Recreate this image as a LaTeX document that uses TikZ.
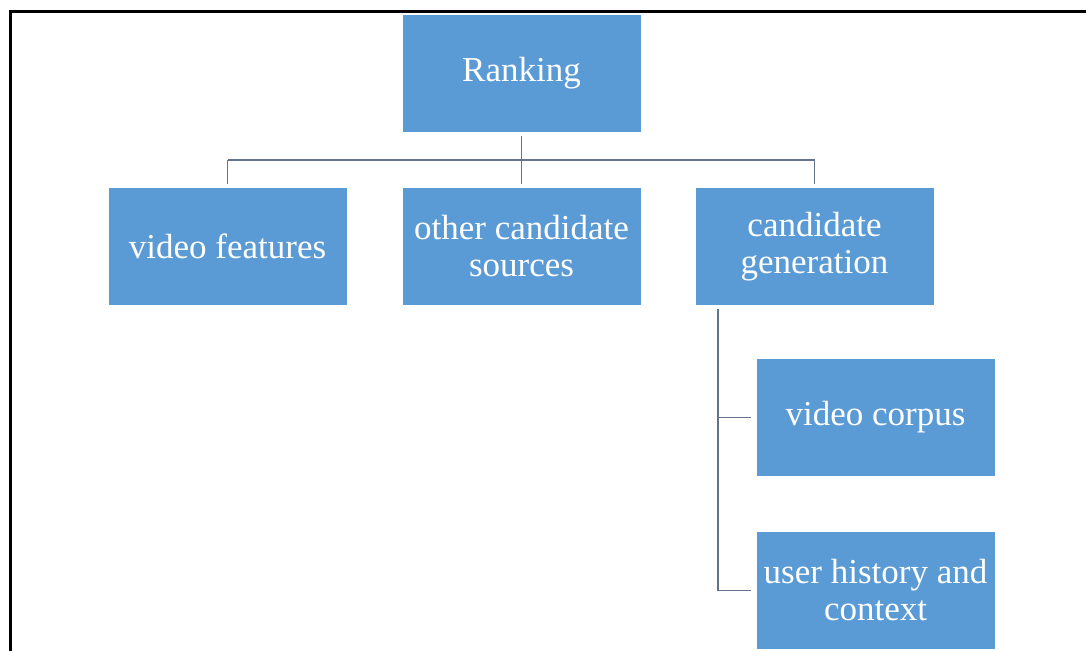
\documentclass[tikz,border=0pt]{standalone}
\usepackage{fontspec}
\setmainfont{Liberation Serif}
\begin{document}
\begin{tikzpicture}[x=1pt,y=-1pt,
  box/.style={fill={rgb,255:red,91;green,155;blue,213}, text=white, inner sep=0pt,
    minimum width=238pt, minimum height=117pt, align=center,
    font=\fontsize{35}{37}\selectfont},
  conn/.style={draw={rgb,255:red,100;green,115;blue,140}, line width=1.6pt},
  frameline/.style={draw=black, line width=2.4pt}]
\useasboundingbox (0,0) rectangle (1086,650);
\fill[white] (0,0) rectangle (1086,650);
\begin{scope}
\clip (0,0) rectangle (1086,650);
\draw[frameline] (1090,11.5) -- (10.5,11.5) -- (10.5,655);
\end{scope}

% boxes
\node[box] (rank) at (521.5,73.5) {Ranking};
\node[box] (vf) at (227.5,246.5) {video features};
\node[box] (ocs) at (521.5,246.5) {other candidate\\sources};
\node[box] (cg) at (814.5,246.5) {candidate\\generation};
\node[box] (vc) at (875.5,417.5) {video corpus};
\node[box] (uh) at (875.5,590.5) {user history and\\context};

% top-level connectors
\coordinate (bus) at (521.5,160);
\draw[conn, shorten <=4pt, shorten >=4pt] (rank.south) -- (ocs.north);
\draw[conn] (vf.north |- bus) -- (cg.north |- bus);
\draw[conn, shorten >=4pt] (vf.north |- bus) -- (vf.north);
\draw[conn, shorten >=4pt] (cg.north |- bus) -- (cg.north);

% candidate generation branches
\coordinate (spine) at (718,309);
\draw[conn] (spine) -- (spine |- uh.west);
\draw[conn, shorten >=5pt] (spine |- vc.west) -- (vc.west);
\draw[conn, shorten >=5pt] (spine |- uh.west) -- (uh.west);
\end{tikzpicture}
\end{document}
